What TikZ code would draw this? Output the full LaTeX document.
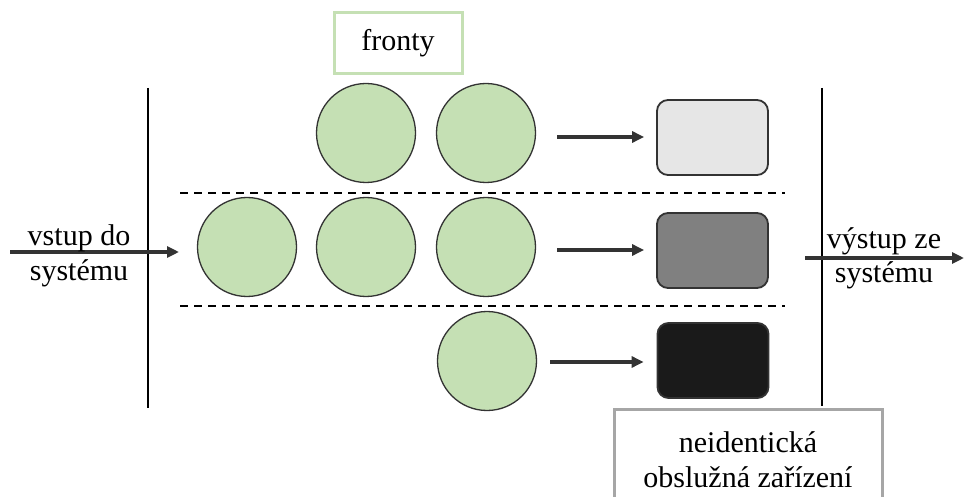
\documentclass[tikz,border=0pt]{standalone}
\usepackage{fontspec}
\setmainfont{Liberation Serif}
\usetikzlibrary{arrows.meta}
\definecolor{qgreen}{HTML}{C5E0B4}
\definecolor{qline}{HTML}{333333}
\definecolor{qlight}{HTML}{E6E6E6}
\definecolor{qmid}{HTML}{808080}
\definecolor{qdark}{HTML}{1A1A1A}
\definecolor{qgray}{HTML}{A6A6A6}
\tikzset{
  queue/.style={circle, draw=qline, line width=1.3pt, fill=qgreen, minimum size=99pt, inner sep=0pt},
  server/.style={rectangle, rounded corners=11pt, draw=qline, line width=1.8pt, minimum width=111pt, minimum height=75pt, inner sep=0pt},
  flow/.style={-{Triangle[length=12pt,width=11pt]}, line width=3.5pt, draw=qline, color=qline},
  wall/.style={line width=1.4pt, black},
  sep/.style={dashed, dash pattern=on 8pt off 6pt, line width=1.4pt, black},
  lbl/.style={font=\fontsize{30}{35}\selectfont, align=center, inner sep=0pt},
}
\begin{document}
\begin{tikzpicture}[x=1pt,y=-1pt]
\useasboundingbox (0,0) rectangle (964,497);
\fill[white] (0,0) rectangle (964,497);
% walls
\coordinate (lt) at (148,88); \coordinate (lb) at (148,408);
\coordinate (rt) at (822,88); \coordinate (rb) at (822,406);
\draw[wall] (lt) -- (lb);
\draw[wall] (rt) -- (rb);
% separators
\coordinate (s1a) at (180,193); \coordinate (s1b) at (785,193);
\coordinate (s2a) at (180,306); \coordinate (s2b) at (785,306);
\draw[sep] (s1a) -- (s1b);
\draw[sep] (s2a) -- (s2b);
% queues
\node[queue] (q12) at (366,133) {};
\node[queue] (q13) at (486,133) {};
\node[queue] (q21) at (247,247) {};
\node[queue] (q22) at (366,247) {};
\node[queue] (q23) at (486,247) {};
\node[queue] (q33) at (487,361) {};
% servers
\node[server, fill=qlight] (s1) at (712.5,137.5) {};
\node[server, fill=qmid] (s2) at (712.5,250.5) {};
\node[server, fill=qdark] (s3) at (713,360.5) {};
% flows
\draw[flow, shorten <=21pt, shorten >=12pt] (q13.east |- 0,137) -- (s1.west |- 0,137);
\draw[flow, shorten <=21pt, shorten >=12pt] (q23.east |- 0,250) -- (s2.west |- 0,250);
\draw[flow, shorten <=13pt, shorten >=13pt] (q33.east |- 0,362) -- (s3.west |- 0,362);
% input / output
\coordinate (in0) at (10,252); \coordinate (in1) at (179,252);
\coordinate (out0) at (805,258); \coordinate (out1) at (964,258);
\draw[flow] (in0) -- (in1);
\draw[flow] (out0) -- (out1);
\node[lbl, anchor=base] (inlab) at (79,280) {vstup do\\systému};
\node[lbl, anchor=base] (outlab) at (884,283) {výstup ze\\systému};
% label boxes
\node[draw=qgreen, line width=3pt, minimum width=128pt, minimum height=61pt, inner sep=0pt, font=\fontsize{30}{35}\selectfont] (fr) at (398,43.5) {fronty};
\begin{scope}
\clip (0,0) rectangle (964,497);
\draw[qgray, line width=3pt] (614,530) -- (614,409) -- (882,409) -- (882,530);
\end{scope}
\node[lbl, anchor=base] (ne) at (748,487) {neidentická\\obslužná zařízení};
\end{tikzpicture}
\end{document}
